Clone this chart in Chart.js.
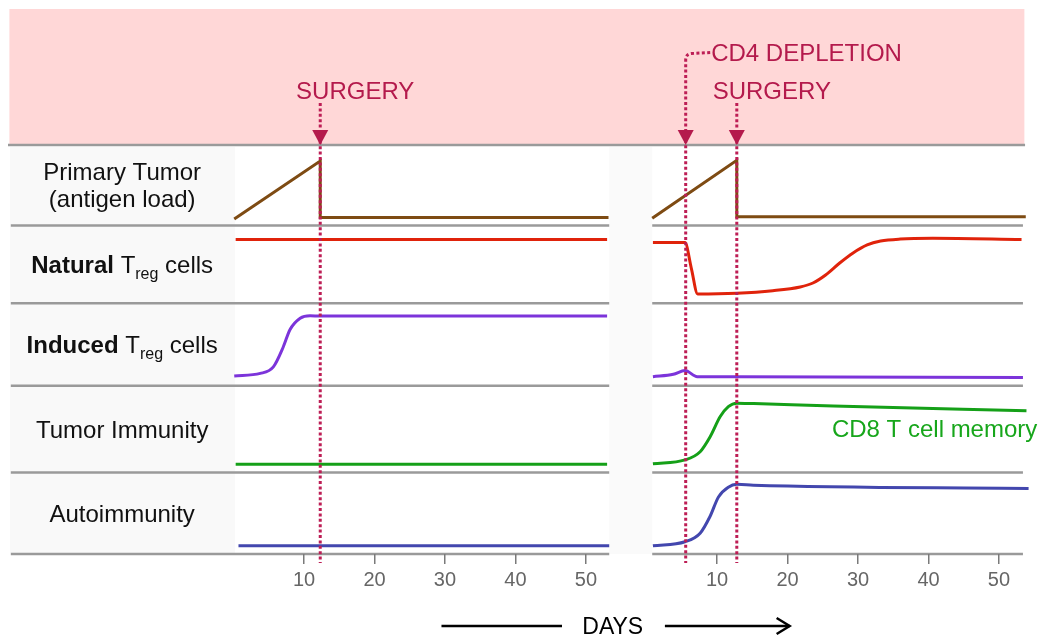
<!DOCTYPE html>
<html>
<head>
<meta charset="utf-8">
<title>Treg depletion timeline</title>
<script src="https://cdn.jsdelivr.net/npm/chart.js@4.4.1/dist/chart.umd.min.js"></script>
<style>
  body { margin: 0; background: #fff; }
  canvas { display: block; }
</style>
</head>
<body>
<canvas id="chart" width="1050" height="640"></canvas>
<script>
var FONT = "'Liberation Sans', Arial, Helvetica, sans-serif";
var CRIMSON = '#b41a4c';
var DOTS = '#bd1e55';

// x axis is in days; the second experiment sits on the same axis, shifted right
var rightShift = 58.6;
var tickDays = [10, 20, 30, 40, 50];

var rowTitles = [
    'Primary Tumor\n(antigen load)',
    '**Natural** T_reg cells',
    '**Induced** T_reg cells',
    'Tumor Immunity',
    'Autoimmunity'
];
var rowColors = ['#7e4b13', '#e0230b', '#7c34da', '#15a018', '#4347ae'];

// levels: 0 = bottom of the row, 1 = top of the row
var tumorLeftDays = [0.1, 12.3, 12.3, 53.2];
var tumorLeftLevel = [0.08, 0.80, 0.10, 0.10];
var tumorRightDays = [0.8, 12.8, 12.8, 53.8];
var tumorRightLevel = [0.09, 0.81, 0.11, 0.11];

var nTregLeftDays = [0.3, 53.0];
var nTregLeftLevel = [0.82, 0.82];
var nTregRightDays = [0.9, 5.45, 6.35, 7.25, 12.8, 17.9, 21.8, 23.6, 25.4, 27.4, 29.3, 31.3, 33.2, 36.0, 40.6, 53.2];
var nTregRightLevel = [0.78, 0.78, 0.45, 0.12, 0.13, 0.162, 0.21, 0.261, 0.364, 0.518, 0.647, 0.75, 0.80, 0.826, 0.835, 0.82];

var iTregLeftDays = [0.1, 3.8, 5.65, 7.05, 8.0, 9.45, 10.85, 12.3, 53.0];
var iTregLeftLevel = [0.12, 0.15, 0.23, 0.47, 0.68, 0.82, 0.85, 0.845, 0.845];
var iTregRightDays = [0.9, 3.8, 5.45, 7.2, 12.8, 53.4];
var iTregRightLevel = [0.11, 0.14, 0.185, 0.11, 0.11, 0.10];

var immLeftDays = [0.3, 53.0];
var immLeftLevel = [0.095, 0.095];
var immRightDays = [0.9, 5.45, 7.6, 9.0, 10.45, 11.6, 12.8, 15.2, 26.5, 53.9];
var immRightLevel = [0.10, 0.145, 0.24, 0.41, 0.645, 0.76, 0.80, 0.795, 0.767, 0.713];

var autoLeftDays = [0.7, 53.3];
var autoLeftLevel = [0.10, 0.10];
var autoRightDays = [0.9, 5.45, 7.6, 9.0, 10.2, 11.6, 12.8, 15.15, 54.2];
var autoRightLevel = [0.10, 0.15, 0.255, 0.46, 0.70, 0.82, 0.855, 0.845, 0.805];

var eventLabels = ['SURGERY', 'CD4 DEPLETION', 'SURGERY'];
var eventDays = [12.3, 5.55, 12.8];
var eventPanel = [0, 1, 1];

var memoryNote = 'CD8 T cell memory';

// frame edges, in axis days
var frameLeft = -31.8, labelColEnd = 0.2, panelEnd = 53.3, panel2Start = 59.4, frameRight = 112;

function pts(days, levels, shift) {
    return days.map(function (d, i) { return { x: d + shift, y: levels[i] }; });
}

var rows = [
    [tumorLeftDays, tumorLeftLevel, tumorRightDays, tumorRightLevel],
    [nTregLeftDays, nTregLeftLevel, nTregRightDays, nTregRightLevel],
    [iTregLeftDays, iTregLeftLevel, iTregRightDays, iTregRightLevel],
    [immLeftDays, immLeftLevel, immRightDays, immRightLevel],
    [autoLeftDays, autoLeftLevel, autoRightDays, autoRightLevel]
];

var datasets = [];
rows.forEach(function (r, i) {
    [pts(r[0], r[1], 0), pts(r[2], r[3], rightShift)].forEach(function (data) {
        datasets.push({
            data: data,
            yAxisID: 'r' + i,
            borderColor: rowColors[i],
            borderWidth: 3,
            pointRadius: 0,
            fill: false,
            tension: 0,
            cubicInterpolationMode: i === 0 ? 'default' : 'monotone'
        });
    });
});

var scales = {
    x: {
        type: 'linear',
        position: 'bottom',
        min: -32,
        max: 113,
        afterBuildTicks: function (s) {
            s.ticks = tickDays.concat(tickDays.map(function (d) { return d + rightShift; }))
                .map(function (v) { return { value: v }; });
        },
        afterFit: function (s) { s.height = 40; },
        border: { display: false },
        grid: { drawOnChartArea: false, drawTicks: true, tickLength: 10, color: '#7a7a7a', lineWidth: 1.5 },
        ticks: {
            autoSkip: false,
            maxRotation: 0,
            padding: 4,
            color: '#666',
            font: { family: FONT, size: 20 },
            callback: function (v) { return v > rightShift - 3 ? Math.round(v - rightShift) : v; }
        }
    },
    head: { type: 'linear', position: 'right', stack: 'rows', stackWeight: 136, weight: 0, min: 0, max: 1, display: false }
};
var rowWeights = [80.5, 77.8, 82.5, 86.7, 81.5];
rowWeights.forEach(function (w, i) {
    scales['r' + i] = { type: 'linear', position: 'right', stack: 'rows', stackWeight: w, weight: i + 1, min: 0, max: 1, display: false };
});

function line(ctx, x1, y1, x2, y2) {
    ctx.beginPath();
    ctx.moveTo(x1, y1);
    ctx.lineTo(x2, y2);
    ctx.stroke();
}

function drawRich(ctx, text, cx, baseY) {
    var parts = text.split(/(\*\*[^*]+\*\*|_\w+)/).filter(Boolean).map(function (p) {
        if (p.indexOf('**') === 0) return { t: p.slice(2, -2), font: 'bold 24px ' + FONT, dy: 0 };
        if (p[0] === '_') return { t: p.slice(1), font: '16px ' + FONT, dy: 6 };
        return { t: p, font: '24px ' + FONT, dy: 0 };
    });
    var total = 0;
    parts.forEach(function (p) { ctx.font = p.font; p.w = ctx.measureText(p.t).width; total += p.w; });
    var x = cx - total / 2;
    ctx.textAlign = 'left';
    parts.forEach(function (p) { ctx.font = p.font; ctx.fillText(p.t, x, baseY + p.dy); x += p.w; });
}

var frame = {
    id: 'frame',
    beforeDraw: function (chart) {
        var ctx = chart.ctx, xs = chart.scales.x, head = chart.scales.head;
        var px = function (d) { return xs.getPixelForValue(d); };
        var bottom = chart.scales.r4.bottom;
        ctx.save();
        ctx.fillStyle = '#fff';
        ctx.fillRect(0, 0, chart.width, chart.height);
        ctx.fillStyle = '#ffd7d7';
        ctx.fillRect(px(frameLeft), head.top, px(frameRight + 0.2) - px(frameLeft), head.bottom - head.top);
        ctx.fillStyle = '#f9f9f9';
        ctx.fillRect(px(frameLeft + 0.1), head.bottom + 2, px(labelColEnd) - px(frameLeft + 0.1), bottom - head.bottom - 3);
        ctx.fillStyle = '#fafafa';
        ctx.fillRect(px(panelEnd), head.bottom + 2, px(panel2Start) - px(panelEnd), bottom - head.bottom - 2);
        ctx.strokeStyle = '#9a9a9a';
        ctx.lineWidth = 2.5;
        line(ctx, px(frameLeft - 0.2), head.bottom, px(frameRight + 0.3), head.bottom);
        for (var i = 0; i < 5; i++) {
            var y = chart.scales['r' + i].bottom;
            line(ctx, px(frameLeft + 0.2), y, px(panelEnd), y);
            line(ctx, px(panel2Start), y, px(frameRight), y);
        }
        ctx.restore();
    },
    afterDatasetsDraw: function (chart) {
        var ctx = chart.ctx, xs = chart.scales.x, head = chart.scales.head;
        var lineEnd = xs.top + 9;
        ctx.save();
        ctx.font = '24px ' + FONT;
        ctx.textBaseline = 'alphabetic';
        eventDays.forEach(function (d, i) {
            var x = xs.getPixelForValue(d + eventPanel[i] * rightShift);
            // an event followed closely by another in the same panel gets its label on an upper line
            var crowded = eventDays.some(function (d2, j) {
                return j !== i && eventPanel[j] === eventPanel[i] && d2 > d && d2 - d < 10;
            });
            ctx.fillStyle = CRIMSON;
            ctx.strokeStyle = DOTS;
            ctx.lineWidth = 3;
            ctx.setLineDash([3, 2.4]);
            if (crowded) {
                var textLeft = x + 25.5;
                ctx.textAlign = 'left';
                ctx.fillText(eventLabels[i], textLeft, head.bottom - 84.5);
                ctx.beginPath();
                ctx.moveTo(textLeft - 1, head.bottom - 92.5);
                ctx.lineTo(x + 6, head.bottom - 91.5);
                ctx.quadraticCurveTo(x, head.bottom - 91, x, head.bottom - 85);
                ctx.lineTo(x, lineEnd);
                ctx.stroke();
            } else {
                ctx.textAlign = 'center';
                ctx.fillText(eventLabels[i], x + 35, head.bottom - 46);
                line(ctx, x, head.bottom - 42, x, lineEnd);
            }
            ctx.setLineDash([]);
            ctx.fillStyle = CRIMSON;
            ctx.beginPath();
            ctx.moveTo(x - 8, head.bottom - 15);
            ctx.lineTo(x + 8, head.bottom - 15);
            ctx.lineTo(x, head.bottom);
            ctx.closePath();
            ctx.fill();
        });
        ctx.restore();
    },
    afterDraw: function (chart) {
        var ctx = chart.ctx, xs = chart.scales.x;
        var px = function (d) { return xs.getPixelForValue(d); };
        var cx = (px(frameLeft) + px(labelColEnd)) / 2;
        ctx.save();
        ctx.fillStyle = '#111';
        ctx.textBaseline = 'alphabetic';
        rowTitles.forEach(function (t, i) {
            var s = chart.scales['r' + i];
            var mid = (s.top + s.bottom) / 2;
            var lines = t.split('\n');
            lines.forEach(function (l, k) {
                drawRich(ctx, l, cx, mid + 8.5 + (k - (lines.length - 1) / 2) * 27.3);
            });
        });
        // note on the tumor immunity row
        ctx.fillStyle = '#17a61b';
        ctx.font = '24px ' + FONT;
        ctx.textAlign = 'left';
        ctx.fillText(memoryNote, px(26.3 + rightShift), chart.scales.r3.getPixelForValue(0.41));
        // DAYS arrow
        var y = chart.height - 14;
        ctx.fillStyle = '#000';
        ctx.strokeStyle = '#000';
        ctx.lineWidth = 2.5;
        ctx.font = '23px ' + FONT;
        ctx.textAlign = 'center';
        ctx.fillText('DAYS', px(53.8), y + 8);
        line(ctx, px(29.5), y, px(46.6), y);
        line(ctx, px(61.2), y, px(78.9), y);
        ctx.beginPath();
        ctx.moveTo(px(78.9) - 13, y - 8);
        ctx.lineTo(px(78.9), y);
        ctx.lineTo(px(78.9) - 13, y + 8);
        ctx.stroke();
        ctx.restore();
    }
};

var chart = new Chart('chart', {
    type: 'line',
    data: { datasets: datasets },
    options: {
        responsive: false,
        animation: false,
        devicePixelRatio: 1,
        layout: { padding: { left: 8, right: 20, top: 9, bottom: 46 } },
        plugins: { legend: { display: false }, tooltip: { enabled: false } },
        scales: scales
    },
    plugins: [frame]
});
</script>
</body>
</html>
